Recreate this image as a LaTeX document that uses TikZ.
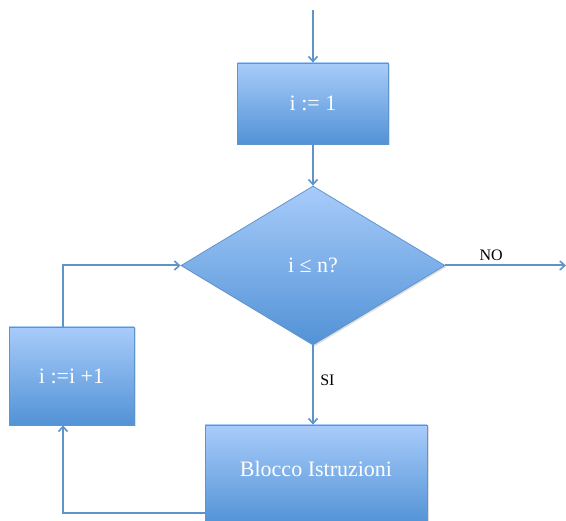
\documentclass[tikz,border=0pt]{standalone}
\usepackage{fontspec}
\setmainfont{Liberation Serif}
\usetikzlibrary{shapes.geometric,arrows.meta,shadows}
\definecolor{topblue}{RGB}{168,204,250}
\definecolor{botblue}{RGB}{82,146,214}
\definecolor{edgeblue}{RGB}{96,148,205}
\definecolor{lineblue}{RGB}{94,147,204}
\begin{document}
\begin{tikzpicture}[x=1pt,y=-1pt,
  boxstyle/.style={draw=edgeblue, line width=0.8pt, top color=topblue, bottom color=botblue,
    text=white, font=\fontsize{22}{24}\selectfont, inner sep=0pt,
    drop shadow={shadow xshift=1.5pt, shadow yshift=-1.5pt, opacity=0.25}},
  conn/.style={draw=lineblue, line width=2pt, -{Straight Barb[length=5pt,width=9pt,line width=1.6pt]}},
  lbl/.style={font=\fontsize{16}{18}\selectfont, text=black}]
\useasboundingbox (0,0) rectangle (566,521);
% nodes
\coordinate (start) at (313,10);
\node[boxstyle, minimum width=151pt, minimum height=81pt] (init) at (313,103.5) {i := 1};
\node[boxstyle, diamond, aspect=1.66, minimum width=264pt, minimum height=159pt] (test) at (313,265.5) {i ≤ n?};
\node[boxstyle, minimum width=125pt, minimum height=98pt] (incr) at (71.5,376) {i :=i +1};
\node[boxstyle, minimum width=222pt, minimum height=100pt] (body) at (316,475) {};
\node[text=white, font=\fontsize{22}{24}\selectfont] (bodytext) at (316,469) {Blocco Istruzioni};
\coordinate (exit) at (566,265.5);
\coordinate (loopA) at (63,513);
\coordinate (loopB) at (63,265.5);
% connectors
\draw[conn] (start) -- (init.north);
\draw[conn] (init.south) -- (test.north);
\draw[conn] (test.east) -- (exit) node[lbl, pos=0.38, above=1pt] (nolbl) {NO};
\draw[conn] (test.south) -- (test.south |- body.north) node[lbl, pos=0.44, right=3pt] (silbl) {SI};
\draw[conn] (body.west |- loopA) -- (loopA) -- (incr.south -| loopA);
\draw[conn] (incr.north -| loopB) -- (loopB) -- (test.west);
\end{tikzpicture}
\end{document}
